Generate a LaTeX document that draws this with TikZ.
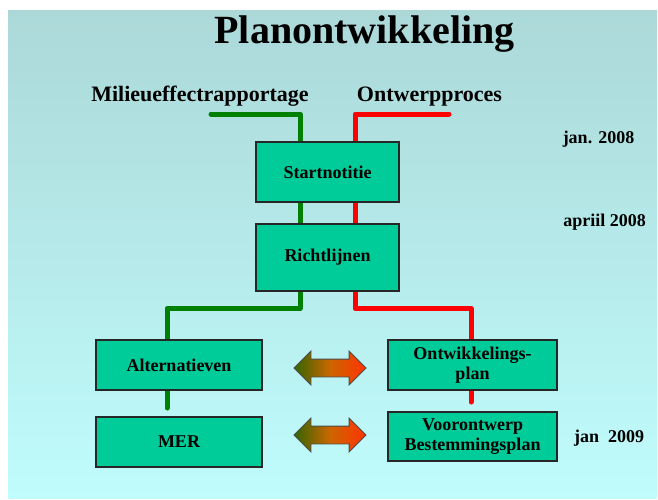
\documentclass[tikz,border=0pt]{standalone}
\usepackage{fontspec}
\setmainfont{Liberation Serif}
\usetikzlibrary{shapes.arrows}
\pgfdeclarelayer{bg}
\pgfdeclarelayer{lijnen}
\pgfsetlayers{bg,lijnen,main}
\definecolor{bgtop}{RGB}{172,216,216}
\definecolor{bgbot}{RGB}{192,252,252}
\definecolor{boxfill}{RGB}{0,204,153}
\definecolor{mgreen}{RGB}{0,128,0}
\definecolor{ored}{RGB}{255,0,0}
\definecolor{arrgreen}{RGB}{51,102,0}
\definecolor{arrmid}{RGB}{204,102,0}
\definecolor{arrred}{RGB}{255,51,0}

\begin{document}
\begin{tikzpicture}[
  x=1pt, y=-1pt,
  box/.style={draw=black!85, line width=1.2pt, fill=boxfill, inner sep=0pt,
    align=center, font=\fontsize{18}{20.5}\selectfont\bfseries},
  mlijn/.style={mgreen, line width=5pt, line cap=round, line join=round},
  olijn/.style={ored, line width=5pt, line cap=round, line join=round},
  dubbel/.style={double arrow, draw=black!70, line width=0.8pt,
    left color=arrgreen, right color=arrred, middle color=arrmid,
    minimum height=72pt, inner xsep=0pt, inner ysep=8.5pt,
    double arrow head extend=8pt},
  kop/.style={font=\fontsize{22}{26}\selectfont\bfseries, anchor=base, inner sep=0pt},
  datum/.style={font=\fontsize{18}{20}\selectfont\bfseries, anchor=base, inner sep=0pt}
]
  \useasboundingbox (0,0) rectangle (658,499);
  \begin{pgfonlayer}{bg}
    \fill[top color=bgtop, bottom color=bgbot] (8,10) rectangle (657,498);
  \end{pgfonlayer}

  % titel en kopjes
  \node[anchor=base, inner sep=0pt, font=\fontsize{40}{48}\selectfont\bfseries] (titel) at (364.5,43) {Planontwikkeling};
  \node[kop] (MIL) at (200,101) {Milieueffectrapportage};
  \node[kop] (ONT) at (429.5,101) {Ontwerpproces};

  % data
  \node[datum] (D1) at (598.5,143) {jan. 2008};
  \node[datum] (D2) at (604.5,226) {apriil 2008};
  \node[datum] (D3) at (609,442) {jan~~2009};

  % stappen
  \node[box, minimum width=143, minimum height=60] (SN) at (327.5,172) {Startnotitie};
  \node[box, minimum width=143, minimum height=67] (RL) at (327.5,257.5) {Richtlijnen};
  \node[box, minimum width=166, minimum height=50] (ALT) at (179,365) {Alternatieven};
  \node[box, minimum width=166, minimum height=50] (MER) at (179,442) {MER};
  \node[box, minimum width=169, minimum height=50] (OP) at (472.5,365) {Ontwikkelings-\\plan};
  \node[box, minimum width=169, minimum height=49] (VB) at (472.5,436.5) {Voorontwerp\\Bestemmingsplan};

  % pijlen
  \node[dubbel] (P1) at (330,368) {};
  \node[dubbel] (P2) at (330,435) {};

  % lijnen
  \coordinate (m0) at (211,114);
  \coordinate (o0) at (449,114);
  \coordinate (m1) at (167,408);
  \coordinate (o1) at (471,402);
  \begin{pgfonlayer}{lijnen}
    \draw[mlijn] (m0) -| ([xshift=-27.5pt]SN.north);
    \draw[olijn] (o0) -| ([xshift=27.5pt]SN.north);
    \draw[mlijn] ([xshift=-27.5pt]SN.south) -- ([xshift=-27.5pt]RL.north);
    \draw[olijn] ([xshift=27.5pt]SN.south) -- ([xshift=27.5pt]RL.north);
    \draw[mlijn] ([xshift=-27.5pt]RL.south) -- ++(0,17) -| ([xshift=-12pt]ALT.north);
    \draw[olijn] ([xshift=27.5pt]RL.south) -- ++(0,17) -| ([xshift=-1.5pt]OP.north);
    \draw[mlijn] ([xshift=-12pt]ALT.south) -- (m1);
    \draw[olijn] ([xshift=-1.5pt]OP.south) -- (o1);
  \end{pgfonlayer}
\end{tikzpicture}
\end{document}
